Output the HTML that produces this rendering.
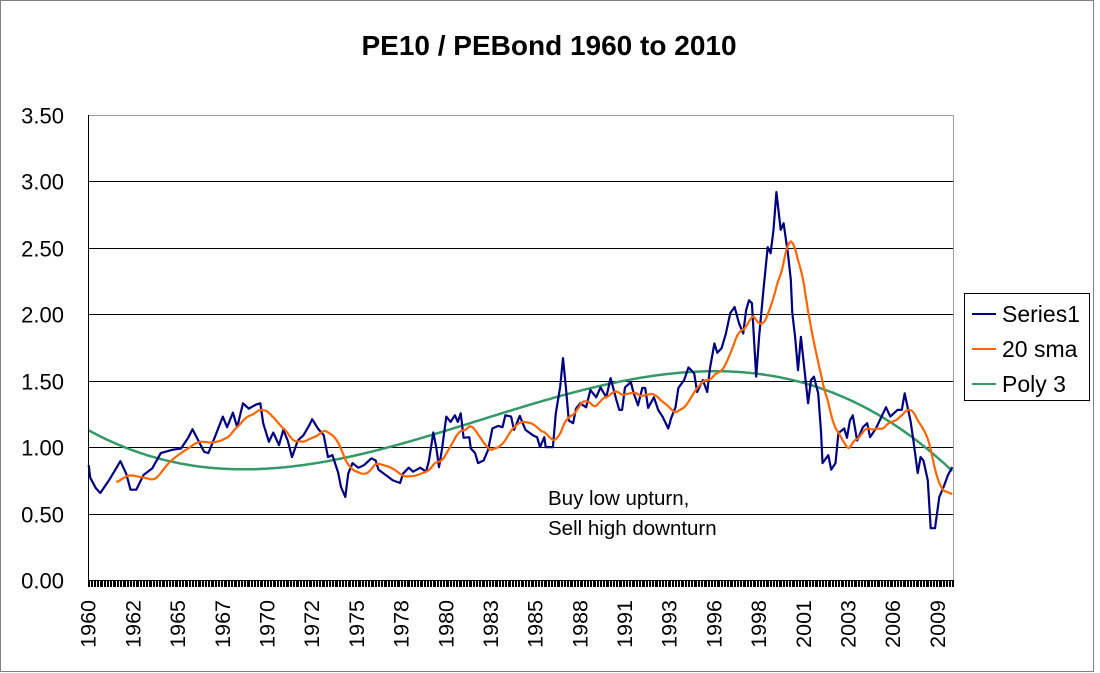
<!DOCTYPE html>
<html><head><meta charset="utf-8"><style>
body{margin:0;background:#fff;}
svg{display:block;font-family:"Liberation Sans",Arial,sans-serif;}
</style></head><body>
<svg id="chart" width="1100" height="673" viewBox="0 0 1100 673">
<rect x="0.5" y="0.5" width="1093" height="671" fill="#fff" stroke="#808080"/>
<text x="549" y="55" text-anchor="middle" font-size="28" font-weight="bold">PE10 / PEBond 1960 to 2010</text>
<g id="grid"></g>
<g id="yticks"></g>
<g id="xticks"></g>
<g id="xlabels"></g>
<line x1="88" y1="115.5" x2="953" y2="115.5" stroke="#a0a0a0"/>
<line x1="953.5" y1="115" x2="953.5" y2="580" stroke="#a0a0a0"/>
<g id="series"></g>
<line x1="88.5" y1="115" x2="88.5" y2="580" stroke="#000"/>
<line x1="88" y1="580.5" x2="953" y2="580.5" stroke="#000"/>
<text x="548" y="505" font-size="20.5">Buy low upturn,</text>
<text x="548" y="535" font-size="20.5">Sell high downturn</text>
<g>
<rect x="964.5" y="293.5" width="125" height="107" fill="#fff" stroke="#000"/>
<line x1="972" y1="314" x2="996" y2="314" stroke="#000080" stroke-width="2"/>
<text x="1002" y="322" font-size="23">Series1</text>
<line x1="972" y1="349" x2="996" y2="349" stroke="#FF6600" stroke-width="2"/>
<text x="1002" y="357" font-size="23">20 sma</text>
<line x1="972" y1="384" x2="996" y2="384" stroke="#339966" stroke-width="2"/>
<text x="1002" y="392" font-size="23">Poly 3</text>
</g>
</svg>
<script>
const months = [0,1,5,8,14,19,22,26,29,33,38,44,50,58,64,69,72,76,80,83,88,93,96,100,103,107,111,116,119,121,125,128,132,135,138,141,145,149,153,155,159,163,166,169,173,175,178,180,183,187,191,196,199,201,206,211,216,218,222,225,230,234,236,239,241,243,245,248,251,254,256,258,260,264,265,268,270,274,277,280,284,287,289,293,295,299,303,308,311,313,316,317,322,324,327,329,331,333,336,338,341,345,348,352,355,359,362,366,368,370,372,376,378,381,384,386,388,392,395,398,402,404,407,409,413,416,420,422,426,429,431,434,436,439,442,445,448,451,454,456,458,460,463,465,468,471,473,475,477,480,482,485,487,488,490,492,494,496,499,501,503,506,508,509,513,515,518,520,524,526,528,530,533,537,540,542,546,551,553,556,561,564,566,568,570,572,575,577,579,582,584,587,590,593,596,599];
const series1 = [0.865,0.77,0.69,0.655,0.75,0.84,0.895,0.80,0.68,0.68,0.79,0.84,0.955,0.98,0.99,1.07,1.135,1.05,0.965,0.955,1.09,1.23,1.15,1.26,1.15,1.33,1.29,1.32,1.33,1.18,1.04,1.11,1.015,1.13,1.05,0.925,1.05,1.09,1.165,1.21,1.14,1.09,0.925,0.94,0.81,0.70,0.625,0.80,0.88,0.845,0.865,0.915,0.90,0.83,0.79,0.75,0.73,0.80,0.845,0.815,0.845,0.815,0.90,1.11,1.00,0.85,0.98,1.23,1.19,1.24,1.19,1.255,1.07,1.075,0.99,0.955,0.88,0.90,0.98,1.14,1.16,1.15,1.24,1.23,1.13,1.235,1.13,1.09,1.075,1.00,1.075,1.00,1.00,1.255,1.45,1.67,1.45,1.20,1.18,1.29,1.33,1.30,1.43,1.375,1.45,1.375,1.52,1.355,1.28,1.28,1.45,1.49,1.405,1.315,1.445,1.445,1.295,1.375,1.28,1.23,1.14,1.22,1.30,1.445,1.505,1.60,1.555,1.415,1.505,1.415,1.60,1.78,1.71,1.745,1.855,2.01,2.055,1.935,1.855,2.03,2.105,2.085,1.53,1.83,2.18,2.505,2.46,2.635,2.92,2.635,2.685,2.46,2.26,2.01,1.83,1.58,1.83,1.63,1.33,1.505,1.53,1.405,1.105,0.88,0.94,0.83,0.88,1.105,1.14,1.07,1.20,1.24,1.05,1.15,1.18,1.075,1.14,1.255,1.30,1.23,1.28,1.28,1.405,1.30,1.20,1.05,0.805,0.925,0.90,0.75,0.39,0.39,0.625,0.70,0.79,0.85];
const yTicks = [0,0.5,1,1.5,2,2.5,3,3.5];
const yTickLabels = ["0.00","0.50","1.00","1.50","2.00","2.50","3.00","3.50"];
const xTickLabels = ["1960","1962","1965","1967","1970","1972","1975","1978","1980","1983","1985","1988","1991","1993","1996","1998","2001","2003","2006","2009"];
const labelEvery = 31;
const nMonths = 600;
const smaPeriod = 20;

const NS="http://www.w3.org/2000/svg";
const X0=88,X1=953,Y0=580,Y1=115,YMAX=3.5;
const cw=(X1-X0)/nMonths;
function xMonth(m){return X0+(m+0.5)*cw;}
function yVal(v){return Y0-(v/YMAX)*(Y0-Y1);}
function mk(tag,attrs,parent){const e=document.createElementNS(NS,tag);for(const k in attrs)e.setAttribute(k,attrs[k]);parent.appendChild(e);return e;}

const grid=document.getElementById('grid'),yt=document.getElementById('yticks');
yTicks.forEach((v,i)=>{
  const y=Math.round(yVal(v))+0.5;
  if(v>0&&v<YMAX){const l=mk('line',{x1:X0,x2:X1,y1:y,y2:y,stroke:'#000'},grid);
    
    }
  const t=mk('text',{x:64,y:y+8,'text-anchor':'end','font-size':'22'},yt);
  t.textContent=yTickLabels[i];
  
  
});
const xt=document.getElementById('xticks');
let d='';
for(let m=0;m<=nMonths;m++){const x=Math.round(X0+m*cw)+0.5;d+='M'+x+' 580V587';}
const tk=mk('path',{d:d,stroke:'#000','stroke-width':'1',fill:'none','shape-rendering':'crispEdges'},xt);


const xl=document.getElementById('xlabels');
xTickLabels.forEach((lab,i)=>{
  const x=xMonth(i*labelEvery)+7;
  const t=mk('text',{x:0,y:0,'text-anchor':'end','font-size':'21.5',transform:'translate('+x.toFixed(1)+',600) rotate(-90)'},xl);
  t.textContent=lab;
  
  
});

const monthly=[];
for(let m=0;m<nMonths;m++){
  let j=0;while(j<months.length-2&&months[j+1]<m)j++;
  const a=months[j],b=months[j+1];
  const f=b===a?0:Math.min(1,Math.max(0,(m-a)/(b-a)));
  monthly.push(series1[j]+(series1[j+1]-series1[j])*f);
}
const sg=document.getElementById('series');
const n=nMonths;const S=[];for(let k=0;k<=6;k++)S.push(0);const T=[0,0,0,0];
for(let m=0;m<n;m++){const u=m/n;let p=1;for(let k=0;k<=6;k++){S[k]+=p;if(k<=3)T[k]+=p*monthly[m];p*=u;}}
const A=[];for(let r=0;r<4;r++){A.push([]);for(let c=0;c<4;c++)A[r].push(S[r+c]);A[r].push(T[r]);}
for(let i=0;i<4;i++){let p=i;for(let r=i+1;r<4;r++)if(Math.abs(A[r][i])>Math.abs(A[p][i]))p=r;[A[i],A[p]]=[A[p],A[i]];
  for(let r=0;r<4;r++)if(r!==i){const f=A[r][i]/A[i][i];for(let c=i;c<5;c++)A[r][c]-=f*A[i][c];}}
const coef=A.map((r,i)=>r[4]/r[i]);
let pd='';for(let m=0;m<n;m++){const u=m/n;const v=coef[0]+coef[1]*u+coef[2]*u*u+coef[3]*u*u*u;pd+=(m?'L':'M')+xMonth(m).toFixed(1)+' '+yVal(v).toFixed(1);}
const poly=mk('path',{d:pd,stroke:'#339966','stroke-width':'2.5',fill:'none'},sg);


let sd='';months.forEach((m,i)=>{sd+=(i?'L':'M')+xMonth(m).toFixed(1)+' '+yVal(series1[i]).toFixed(1);});
const s1=mk('path',{d:sd,stroke:'#000080','stroke-width':'2.2',fill:'none','stroke-linejoin':'round'},sg);


let md='';for(let m=smaPeriod-1;m<n;m++){let s=0;for(let k=0;k<smaPeriod;k++)s+=monthly[m-k];md+=(m===smaPeriod-1?'M':'L')+xMonth(m).toFixed(1)+' '+yVal(s/smaPeriod).toFixed(1);}
const sma=mk('path',{d:md,stroke:'#FF6600','stroke-width':'2.2',fill:'none'},sg);


</script>
</body></html>
